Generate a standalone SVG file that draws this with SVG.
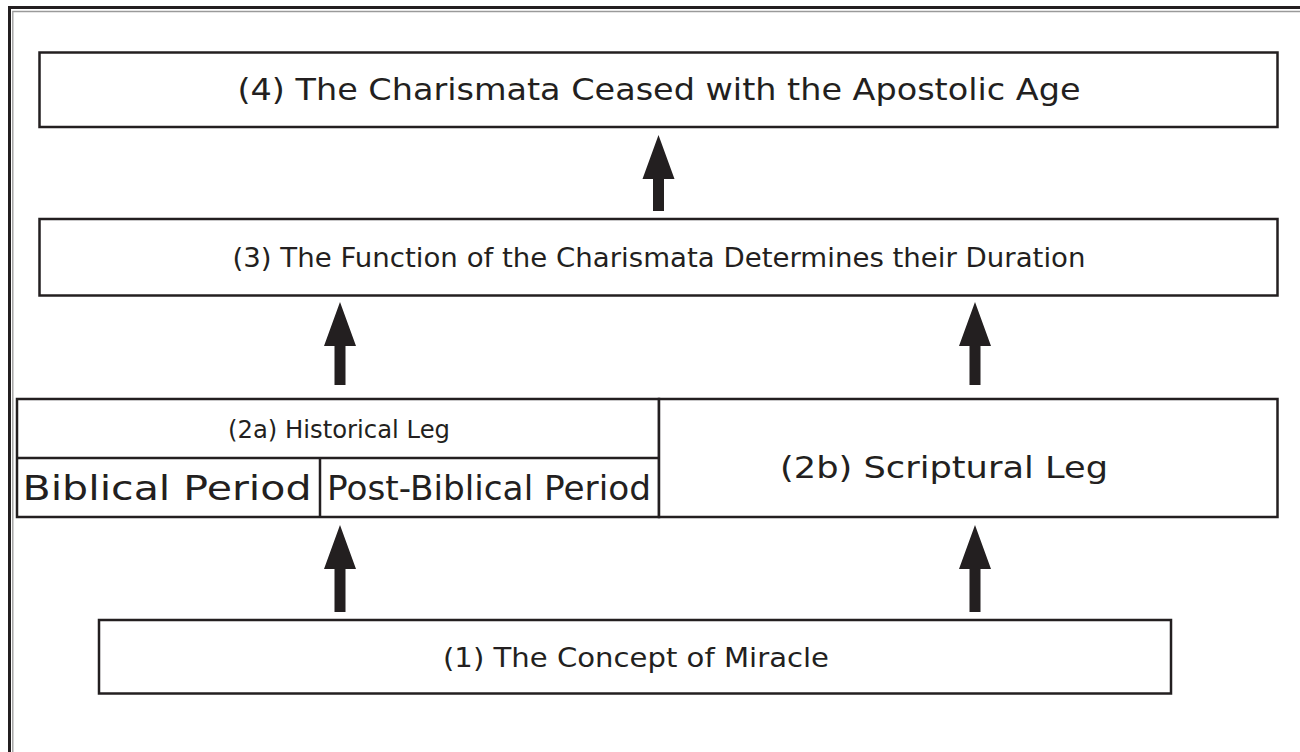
<svg xmlns="http://www.w3.org/2000/svg" width="1300" height="752" viewBox="0 0 1300 752">
<style>
.box{fill:#fff;stroke:#231f20;stroke-width:2.5}
.ln{stroke:#231f20;stroke-width:2.5;fill:none}
.t{font-family:"DejaVu Sans","Liberation Sans",sans-serif;fill:#231f20;text-anchor:middle}
.arr{fill:#231f20}
</style>
<rect width="1300" height="752" fill="#fff"/>
<g id="frame">
<path d="M9.5 752 V7.5 H1300" fill="none" stroke="#231f20" stroke-width="3"/>
<path d="M12.8 752 V11.5 H1300" fill="none" stroke="#9a9a9a" stroke-width="1.3"/>
</g>
<g id="node4">
<rect class="box" x="39.5" y="52.5" width="1238" height="74.5"/>
<text class="t" x="659" y="100" font-size="30" textLength="843" lengthAdjust="spacingAndGlyphs">(4) The Charismata Ceased with the Apostolic Age</text>
</g>
<g id="node3">
<rect class="box" x="39.5" y="219" width="1238" height="76.5"/>
<text class="t" x="659" y="266.5" font-size="26" textLength="853" lengthAdjust="spacingAndGlyphs">(3) The Function of the Charismata Determines their Duration</text>
</g>
<g id="node2a">
<rect class="box" x="17" y="399" width="642" height="118"/>
<line class="ln" x1="17" y1="458" x2="659" y2="458"/>
<line class="ln" x1="320" y1="458" x2="320" y2="517"/>
<text class="t" x="339" y="438" font-size="25" textLength="222" lengthAdjust="spacingAndGlyphs">(2a) Historical Leg</text>
<text class="t" x="167" y="500" font-size="34" textLength="289" lengthAdjust="spacingAndGlyphs">Biblical Period</text>
<text class="t" x="489" y="500" font-size="34" textLength="324" lengthAdjust="spacingAndGlyphs">Post-Biblical Period</text>
</g>
<g id="node2b">
<rect class="box" x="659" y="399" width="618.5" height="118"/>
<text class="t" x="944" y="478" font-size="30" textLength="328" lengthAdjust="spacingAndGlyphs">(2b) Scriptural Leg</text>
</g>
<g id="node1">
<rect class="box" x="99" y="620" width="1072" height="73.5"/>
<text class="t" x="636" y="666.5" font-size="27" textLength="386" lengthAdjust="spacingAndGlyphs">(1) The Concept of Miracle</text>
</g>
<g id="connectors">
<path class="arr" d="M658.5 135 L674.5 179 L664 179 L664 211 L653 211 L653 179 L642.5 179 Z"/>
<path class="arr" d="M340 302 L356 346 L345.5 346 L345.5 385 L334.5 385 L334.5 346 L324 346 Z"/>
<path class="arr" d="M975 302 L991 346 L980.5 346 L980.5 385 L969.5 385 L969.5 346 L959 346 Z"/>
<path class="arr" d="M340 525 L356 569 L345.5 569 L345.5 612 L334.5 612 L334.5 569 L324 569 Z"/>
<path class="arr" d="M975 525 L991 569 L980.5 569 L980.5 612 L969.5 612 L969.5 569 L959 569 Z"/>
</g>
</svg>
